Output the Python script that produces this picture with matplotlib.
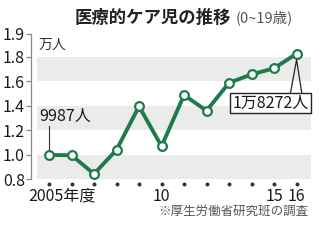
import matplotlib
matplotlib.use("Agg")
from matplotlib import pyplot as plt

plt.rcParams['font.family'] = ['Noto Sans CJK JP', 'DejaVu Sans']

# data (10,000 people)
years = [2005, 2006, 2007, 2008, 2009, 2010, 2011, 2012, 2013, 2014, 2015, 2016]
counts = [0.9987, 0.9967, 0.8438, 1.0413, 1.3968, 1.0702, 1.4886, 1.3612, 1.5892, 1.6575, 1.7078, 1.8272]
ytick_vals = [0.8, 1.0, 1.2, 1.4, 1.6, 1.8]
xtick_labels = {2010: '10', 2015: '15', 2016: '16'}
bands = [(0.8, 1.0), (1.2, 1.4), (1.6, 1.8)]

green = '#1f7a4c'
W, H = 320, 240
fig = plt.figure(figsize=(W / 100, H / 100), dpi=100)
ax = fig.add_axes([31 / W, (H - 179.3) / H, (311 - 31) / W, (179.3 - 34) / H])
ax.set_xlim(2004.2, 2016.64)
ytop = 1.988
ax.set_ylim(0.8, ytop)

for lo, hi in bands:
    ax.axhspan(lo, hi, xmin=0.021, xmax=1, color='#ebebeb', lw=0, zorder=0)

ax.plot(years, counts, color=green, lw=2.8, marker='o', ms=6.3,
        mfc='white', mec=green, mew=1.6, zorder=3, clip_on=False)

for s in ['top', 'right', 'bottom']:
    ax.spines[s].set_visible(False)
ax.spines['left'].set_color('#888888')
ax.spines['left'].set_linewidth(0.9)
ax.set_yticks(ytick_vals + [ytop])
ax.set_yticklabels(['%.1f' % v for v in ytick_vals] + ['1.9'])
ax.tick_params(axis='y', length=3.5, width=0.9, color='#888888', pad=1,
               labelsize=11.5, labelcolor='#1a1a1a')
ax.set_xticks([])

# x axis dots and labels
xt = ax.get_xaxis_transform()
ax.scatter(years, [-0.03] * len(years), s=3.5, color='#333333', transform=xt, clip_on=False)
ax.text(2005 - 0.9, -0.115, '2005年度', transform=xt, ha='left', va='center',
        fontsize=11.5, color='#1a1a1a')
for yr, lab in xtick_labels.items():
    ax.text(yr, -0.115, lab, transform=xt, ha='center', va='center',
            fontsize=11.5, color='#1a1a1a')

ax.text(2004.55, 1.9, '万人', fontsize=10, color='#333333', va='center', ha='left')

# first point annotation
ax.plot([years[0], years[0]], [1.235, counts[0] + 0.03], color='#333333', lw=0.8)
ax.text(2004.55, 1.31, '9987人', fontsize=11.5, color='#1a1a1a', va='center', ha='left')

# last point callout
px, py = years[-1], counts[-1]
ax.plot([px - 0.3, px, px + 0.25], [1.48, py - 0.05, 1.48], color='#222222', lw=0.9, zorder=4)
ax.text(px - 1.16, 1.424, '1万8272人', fontsize=11.5, color='#1a1a1a', va='center', ha='center',
        zorder=5, bbox=dict(boxstyle='square,pad=0.12', fc='white', ec='#222222', lw=1.0))

fig.text(75 / W, 1 - 18 / H, '医療的ケア児の推移', fontsize=12.5, fontweight='bold',
         color='#222222', va='center', ha='left')
fig.text(236 / W, 1 - 18 / H, '(0~19歳)', fontsize=10.5, color='#555555', va='center', ha='left')
fig.text(308 / W, 1 - 211 / H, '※厚生労働省研究班の調査', fontsize=9, color='#555555',
         va='center', ha='right')

fig.savefig('out.png', dpi=100)
